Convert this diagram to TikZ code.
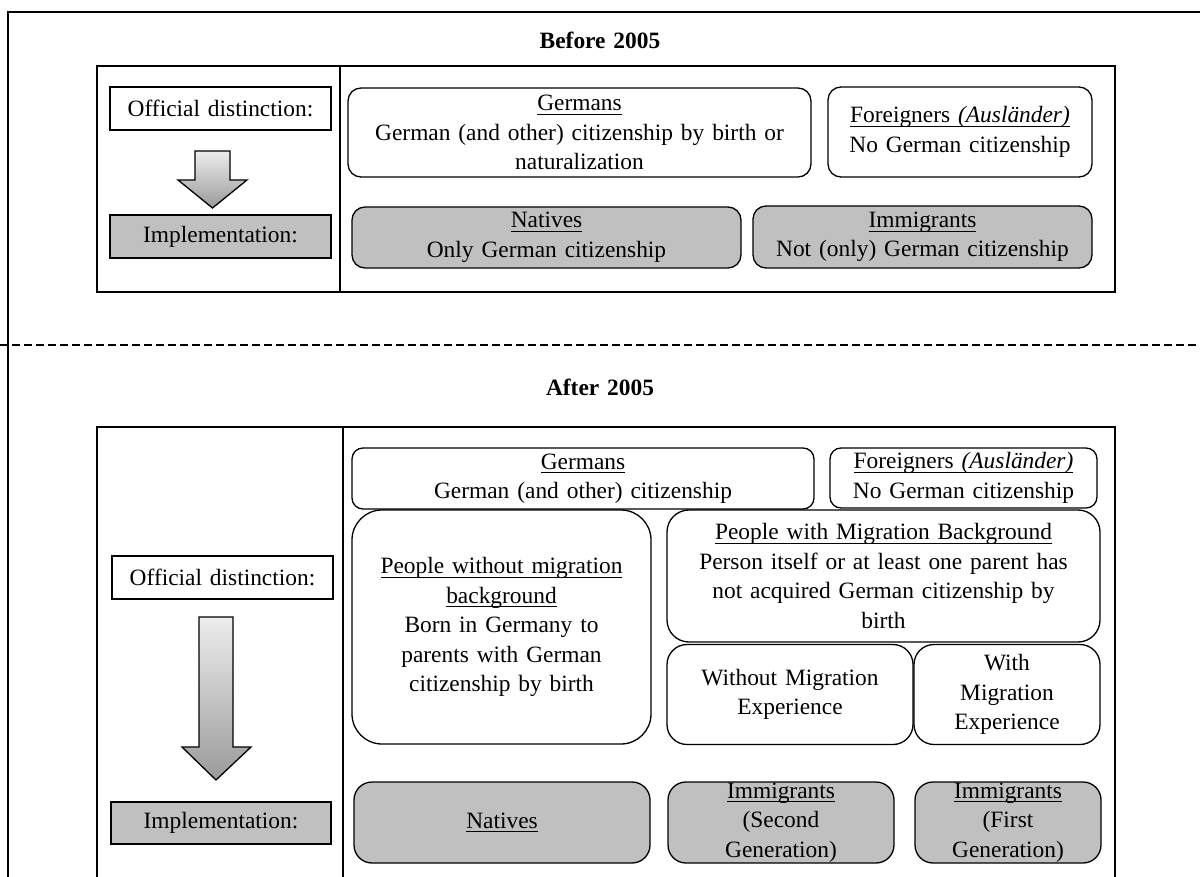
\documentclass[tikz,border=0pt]{standalone}
\usepackage{fontspec}
\setmainfont{Liberation Serif}[WordSpace=1.35]
\newcommand\bodyfont{\fontsize{23.4}{29.5}\selectfont}
% underline at a fixed depth below the baseline
\newcommand\ulx[1]{\setbox0=\hbox{#1}\leavevmode\rlap{\rule[-4pt]{\wd0}{0.9pt}}\box0}
\definecolor{boxgray}{HTML}{C0C0C0}
\definecolor{arrowtop}{HTML}{EDEDED}
\definecolor{arrowbot}{HTML}{9A9A9A}
\begin{document}
\begin{tikzpicture}[x=1pt,y=-1pt,
  base/.style={draw=black, line width=1.3pt, inner sep=0pt, align=center, font=\bodyfont},
  sqbox/.style={base, rectangle},
  rbox/.style={base, rounded corners=#1},
  rbox/.default=13pt,
  grey/.style={fill=boxgray},
  frame/.style={draw=black, line width=1.4pt},
  title/.style={font=\bodyfont\bfseries, inner sep=0pt},
  blockarrow/.style={draw=black, line width=1.3pt, top color=arrowtop, bottom color=arrowbot}]
\useasboundingbox (0,0) rectangle (1200,877);

% outer frame and separator
\draw[frame] (8,877) -- (8,12) -- (1200,12);
\draw[frame, dash pattern=on 8pt off 4pt] (0,345) -- (1200,345);

% ---------- before 2005 ----------
\node[title] (titleA) at (600,40) {Before 2005};
\draw[frame] (97,66) rectangle (1115,292);
\draw[frame] (340,66) -- (340,292);

\node[sqbox, minimum width=221pt, minimum height=43pt] (offA) at (220.5,108.5) {Official distinction:};
\node[sqbox, grey, minimum width=221pt, minimum height=43pt] (impA) at (220.5,236.5) {Implementation:};
\shadedraw[blockarrow] (195,151) -- (230,151) -- (230,180) -- (247,180) -- (212.5,208)
  -- (178,180) -- (195,180) -- cycle;

\node[rbox, minimum width=463pt, minimum height=89pt] (germA) at (579.5,132.5)
  {\ulx{Germans}\\German (and other) citizenship by birth or\\naturalization};
\node[rbox, minimum width=264pt, minimum height=90pt] (forA) at (960,132)
  {\ulx{Foreigners \itshape(Ausländer)}\\No German citizenship};
\node[rbox, grey, minimum width=389pt, minimum height=61pt] (natA) at (546.5,237.5)
  {\ulx{Natives}\\Only German citizenship};
\node[rbox, grey, minimum width=339pt, minimum height=62pt] (immA) at (922.5,237)
  {\ulx{Immigrants}\\Not (only) German citizenship};

% ---------- after 2005 ----------
\node[title] (titleB) at (600,387) {After 2005};
\draw[frame] (97,877) -- (97,427) -- (1115,427) -- (1115,877);
\draw[frame] (343,427) -- (343,877);

\node[sqbox, minimum width=221pt, minimum height=43pt] (offB) at (222.5,577.5) {Official distinction:};
\node[sqbox, grey, minimum width=220pt, minimum height=42pt] (impB) at (221,823) {Implementation:};
\shadedraw[blockarrow] (199,617) -- (233,617) -- (233,747) -- (251,747) -- (216,780)
  -- (182,747) -- (199,747) -- cycle;

\node[rbox=11pt, minimum width=462pt, minimum height=61pt] (germB) at (583,478.5)
  {\ulx{Germans}\\German (and other) citizenship};
\node[rbox=11pt, minimum width=267pt, minimum height=60pt] (forB) at (963.5,478)
  {\ulx{Foreigners \itshape(Ausländer)}\\No German citizenship};

\node[rbox=30pt, minimum width=299pt, minimum height=234pt] (pwo) at (501.5,627)
  {\ulx{People without migration}\\\ulx{background}\\Born in Germany to\\parents with German\\citizenship by birth};
\node[rbox=22pt, minimum width=433pt, minimum height=132pt] (pwm) at (883.5,576)
  {\ulx{People with Migration Background}\\Person itself or at least one parent has\\not acquired German citizenship by\\birth};
\node[rbox=20pt, minimum width=246pt, minimum height=100pt] (wo) at (790,694.5)
  {Without Migration\\Experience};
\node[rbox=20pt, minimum width=186pt, minimum height=100pt] (wi) at (1007,694.5)
  {With\\Migration\\Experience};

\node[rbox=18pt, grey, minimum width=296pt, minimum height=81pt] (natB) at (502,822.5)
  {\ulx{Natives}};
\node[rbox=18pt, grey, minimum width=226pt, minimum height=81pt] (im2) at (781,822.5)
  {\ulx{Immigrants}\\(Second\\Generation)};
\node[rbox=18pt, grey, minimum width=186pt, minimum height=81pt] (im1) at (1008,822.5)
  {\ulx{Immigrants}\\(First\\Generation)};
\end{tikzpicture}
\end{document}
